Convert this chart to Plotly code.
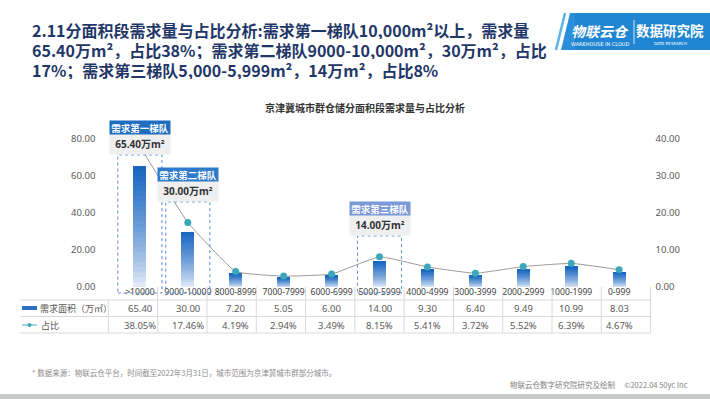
import plotly.graph_objects as go

# ---------------- data ----------------
categories = ['>10000', '9000-10000', '8000-8999', '7000-7999', '6000-6999', '5000-5999',
              '4000-4999', '3000-3999', '2000-2999', '1000-1999', '0-999']
area_values = [65.40, 30.00, 7.20, 5.05, 6.00, 14.00, 9.30, 6.40, 9.49, 10.99, 8.03]
share_pct = [38.05, 17.46, 4.19, 2.94, 3.49, 8.15, 5.41, 3.72, 5.52, 6.39, 4.67]
left_ticks = [0, 20, 40, 60, 80]
right_ticks = [0, 10, 20, 30, 40]
tier_names = ['需求第一梯队', '需求第二梯队', '需求第三梯队']
tier_index = [0, 1, 5]
row_labels = ['需求面积（万㎡）', '占比']

title_lines = [
    '2.11分面积段需求量与占比分析:需求第一梯队10,000m²以上，需求量',
    '65.40万m²，占比38%；需求第二梯队9000-10,000m²，30万m²，占比',
    '17%；需求第三梯队5,000-5,999m²，14万m²，占比8%',
]
chart_title = '京津冀城市群仓储分面积段需求量与占比分析'
footnote = '* 数据来源：物联云仓平台，时间截至2022年3月31日，城市范围为京津冀城市群部分城市。'
credits = '物联云仓数字研究院研究及绘制　 ©2022.04 50yc Inc'

# ---------------- layout geometry (pixels) ----------------
W, H = 710, 399
FONT = 'Noto Sans CJK SC'
NUMFONT = 'Noto Sans, Noto Sans CJK SC'
PX_L, PX_R = 108.4, 650.6      # plot area x
PY_T, PY_B = 139.0, 287.0      # plot area y (80 -> 0)


def px(x):
    return x / W


def py(y):
    return 1 - y / H


xdom = [px(PX_L), px(PX_R)]
ydom = [py(PY_B), py(PY_T)]
YMAX = 80
col_w = (PX_R - PX_L) / len(categories)

fig = go.Figure()

# gradient bars built from stacked slices of each value
N = 24
dark = (22, 100, 192)
light = (236, 242, 250)
for k in range(N):
    t = (k + 0.5) / N
    t = t ** 0.75
    c = tuple(int(light[j] + (dark[j] - light[j]) * t) for j in range(3))
    fig.add_trace(go.Bar(
        x=categories, y=[v / N for v in area_values],
        marker=dict(color='rgb(%d,%d,%d)' % c, line=dict(width=0)),
        width=0.27, showlegend=False, hoverinfo='skip', name='需求面积（万㎡）'))

fig.add_trace(go.Scatter(
    x=categories, y=share_pct, yaxis='y2', mode='lines+markers',
    line=dict(color='#9a9a9a', width=1, shape='spline', smoothing=0.35),
    marker=dict(color='#3aa8ba', size=7),
    showlegend=False, hoverinfo='skip', name='占比', cliponaxis=False))

shapes = []
annotations = []


def ann(x, y, text, size, color, family=FONT, xanchor='center', xref='paper', **kw):
    d = dict(x=x, y=y, xref=xref, yref='paper', xanchor=xanchor, yanchor='middle', text=text,
             showarrow=False, font=dict(family=family, size=size, color=color))
    d.update(kw)
    annotations.append(d)


# title
for i, line in enumerate(title_lines):
    ann(px(30), py(30 + i * 20), '<b>' + line + '</b>', 16, '#1f3768', xanchor='left',
        height=18, valign='middle', align='left')

# logo banner
shapes.append(dict(type='rect', xref='paper', yref='paper', x0=px(570), x1=1, y0=py(50), y1=py(13),
                   fillcolor='#2086d3', line=dict(width=0), layer='above'))
shapes.append(dict(type='path', xref='paper', yref='paper',
                   path='M%.5f,%.5fL%.5f,%.5fL%.5f,%.5fL%.5f,%.5fZ' % (px(561), py(50), px(570), py(13), px(575), py(13), px(575), py(50)),
                   fillcolor='#2a8fd8', line=dict(width=0), layer='above'))
shapes.append(dict(type='line', xref='paper', yref='paper', x0=px(556), x1=px(565), y0=py(50), y1=py(13),
                   line=dict(color='#5cb4e6', width=2.5), layer='above'))
shapes.append(dict(type='line', xref='paper', yref='paper', x0=px(634), x1=px(634), y0=py(20), y1=py(44),
                   line=dict(color='rgba(255,255,255,0.8)', width=1), layer='above'))
ann(px(600), py(31), '<b><i>物联云仓</i></b>', 14, 'white')
ann(px(600), py(44), 'WAREHOUSE IN CLOUD', 5, 'white', family='DejaVu Sans')
ann(px(670), py(30), '<b>数据研究院</b>', 13.5, 'white')
ann(px(670), py(43), 'DATA RESEARCH', 4, 'white', family='DejaVu Sans')

# chart title
ann(px(365), py(107), '<b>' + chart_title + '</b>', 10, '#333333')

# tier callouts
tier_box_bottom = [71.4, 46.0, 27.6]   # placement of callout boxes (axis units)
tier_colors = ['#1f6dbf', '#2f7acb', '#7b98d8']
for name, idx, yb, col in zip(tier_names, tier_index, tier_box_bottom, tier_colors):
    annotations.append(dict(
        x=idx, y=yb, xref='x', yref='y', xanchor='center', yanchor='bottom', yshift=0,
        text='<b>%.2f万m²</b>' % area_values[idx], showarrow=False,
        width=60, height=20, bgcolor='#efefef', borderpad=0,
        font=dict(family=NUMFONT, size=10, color='#333333')))
    annotations.append(dict(
        x=idx, y=yb, xref='x', yref='y', xanchor='center', yanchor='bottom', yshift=20,
        text='<b>' + name + '</b>', showarrow=False,
        width=60, height=13, bgcolor=col, borderpad=0,
        font=dict(family=FONT, size=9.5, color='white')))
    top_paper = ydom[0] + yb / YMAX * (ydom[1] - ydom[0])
    shapes.append(dict(type='rect', xref='x', yref='paper', x0=idx - 0.46, x1=idx + 0.46,
                       y0=py(293), y1=top_paper, layer='above',
                       line=dict(color='#5a8ad0', width=1, dash='dot')))

# data table below axis
grid = '#d9d9d9'
row_y = [300, 316.5, 333]
for y in row_y:
    shapes.append(dict(type='line', xref='paper', yref='paper', x0=px(20), x1=px(PX_R), y0=py(y), y1=py(y),
                       line=dict(color=grid, width=1)))
for k in range(len(categories) + 1):
    xx = PX_L + k * col_w
    y_top = 300 if k == 0 else PY_B
    shapes.append(dict(type='line', xref='paper', yref='paper', x0=px(xx), x1=px(xx), y0=py(y_top), y1=py(333),
                       line=dict(color=grid, width=1)))

row_centers = [308.5, 325]
for i, cat in enumerate(categories):
    ann(i, py(row_centers[0]), '%.2f' % area_values[i], 9.5, '#595959', family=NUMFONT, xref='x')
    ann(i, py(row_centers[1]), '%.2f%%' % share_pct[i], 9.5, '#595959', family=NUMFONT, xref='x')

# row labels with legend keys
shapes.append(dict(type='rect', xref='paper', yref='paper', x0=px(22), x1=px(37), y0=py(310), y1=py(306),
                   fillcolor='#2d6fc2', line=dict(width=0)))
shapes.append(dict(type='line', xref='paper', yref='paper', x0=px(22), x1=px(37), y0=py(325), y1=py(325),
                   line=dict(color='#3aa8ba', width=1)))
shapes.append(dict(type='circle', xref='paper', yref='paper', x0=px(27.5), x1=px(31.5), y0=py(327), y1=py(323),
                   fillcolor='#3aa8ba', line=dict(width=0)))
ann(px(38), py(row_centers[0]), row_labels[0], 9, '#595959', xanchor='left')
ann(px(39), py(row_centers[1]), row_labels[1], 9, '#595959', xanchor='left')

# footer
ann(px(30), py(372), footnote, 7.5, '#8c8c8c', xanchor='left')
ann(px(690), py(384), credits, 7.5, '#7f7f7f', xanchor='right')
shapes.append(dict(type='rect', xref='paper', yref='paper', x0=0, x1=1, y0=0, y1=py(394),
                   fillcolor='#c6caca', line=dict(width=0), layer='below'))

fig.update_layout(
    width=W, height=H, autosize=False,
    margin=dict(l=0, r=0, t=0, b=0, autoexpand=False),
    paper_bgcolor='white', plot_bgcolor='rgba(0,0,0,0)',
    barmode='stack', bargap=0.73,
    font=dict(family=FONT, size=10, color='#595959'),
    xaxis=dict(domain=xdom, type='category', showgrid=False, zeroline=False, showline=False,
               ticks='', tickangle=0, automargin=False,
               tickfont=dict(family=NUMFONT, size=8.6, color='#404040'), ticklabelstandoff=-2,
               fixedrange=True),
    yaxis=dict(domain=ydom, range=[0, YMAX], tickvals=left_ticks, tickformat='.2f', showgrid=False,
               zeroline=False, showline=False, ticks='', ticklabelstandoff=12, automargin=False,
               tickfont=dict(family=NUMFONT, size=9.5, color='#595959')),
    yaxis2=dict(overlaying='y', side='right', range=[0, 40], tickvals=right_ticks,
                tickformat='.2f', ticksuffix='%', showgrid=False, zeroline=False, showline=False,
                ticks='', ticklabelstandoff=4, automargin=False,
                tickfont=dict(family=NUMFONT, size=9.5, color='#595959')),
    shapes=shapes, annotations=annotations,
)

fig.write_html('out.html', config={'displayModeBar': False},
               post_script="document.body.style.margin='0px';")
